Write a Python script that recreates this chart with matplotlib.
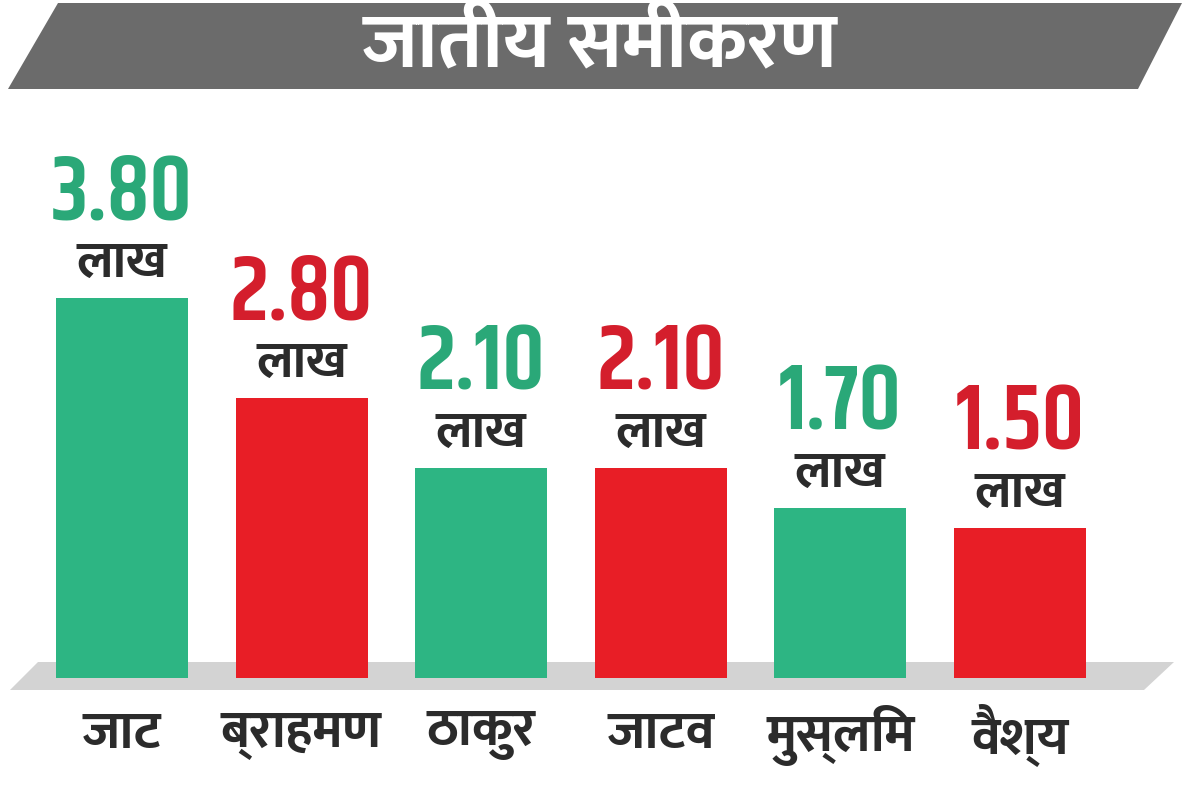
import matplotlib
matplotlib.use("Agg")
import matplotlib.pyplot as plt
from matplotlib.patches import Polygon

# data
title = "जातीय समीकरण"
castes = ["जाट", "ब्राहमण", "ठाकुर", "जाटव", "मुस्लिम", "वैश्य"]
values = [3.80, 2.80, 2.10, 2.10, 1.70, 1.50]
unit = "लाख"
green = "#2db583"
red = "#e81e26"
colors = [green, red, green, red, green, red]
text_colors = ["#2aa878", "#d41e2c", "#2aa878", "#d41e2c", "#2aa878", "#d41e2c"]

deva = ["Ek Mukta", "Noto Sans Devanagari", "DejaVu Sans"]
nums = ["Khand", "Teko", "DejaVu Sans"]

W, H = 1200, 810
fig = plt.figure(figsize=(12, 8.1), dpi=100)
fig.patch.set_facecolor("white")
ax = fig.add_axes([0, 0, 1, 1])
ax.set_xlim(-0.679, 6.002)
ax.set_ylim(-1.32, 6.78)
ax.axis("off")


def px(x, y):
    # pixel (from top-left) -> figure fraction
    return (x / W, 1 - y / H)


# title banner
ax.add_patch(Polygon([px(8, 89), px(58, 3), px(1182, 3), px(1138, 89)], closed=True,
                     transform=fig.transFigure, facecolor="#6b6b6b", edgecolor="none",
                     zorder=0))
ax.text(0.5, 1 - 47 / H, title, transform=fig.transFigure, color="white", fontsize=56,
        fontweight="bold", family=deva, ha="center", va="center")

# floor band
ax.add_patch(Polygon([px(10, 690), px(38, 662), px(1174, 662), px(1144, 690)], closed=True,
                     transform=fig.transFigure, facecolor="#d3d3d3", edgecolor="none",
                     zorder=1))

x = list(range(len(castes)))
ax.bar(x, values, width=0.735, color=colors, zorder=2)

for xi, v, tc in zip(x, values, text_colors):
    ax.annotate("%.2f" % v, (xi, v), xytext=(0, 76), textcoords="offset points",
                ha="center", va="center", fontsize=66, color=tc, family=nums,
                fontweight="semibold")
    ax.annotate(unit, (xi, v), xytext=(0, 24), textcoords="offset points",
                ha="center", va="center", fontsize=37, color="#2b2b2b", family=deva,
                fontweight="bold")

for xi, c in zip(x, castes):
    ax.text(xi, -0.57, c, ha="center", va="center", fontsize=38, color="#2b2b2b",
            family=deva, fontweight="bold")

fig.savefig("out.png", dpi=100)
